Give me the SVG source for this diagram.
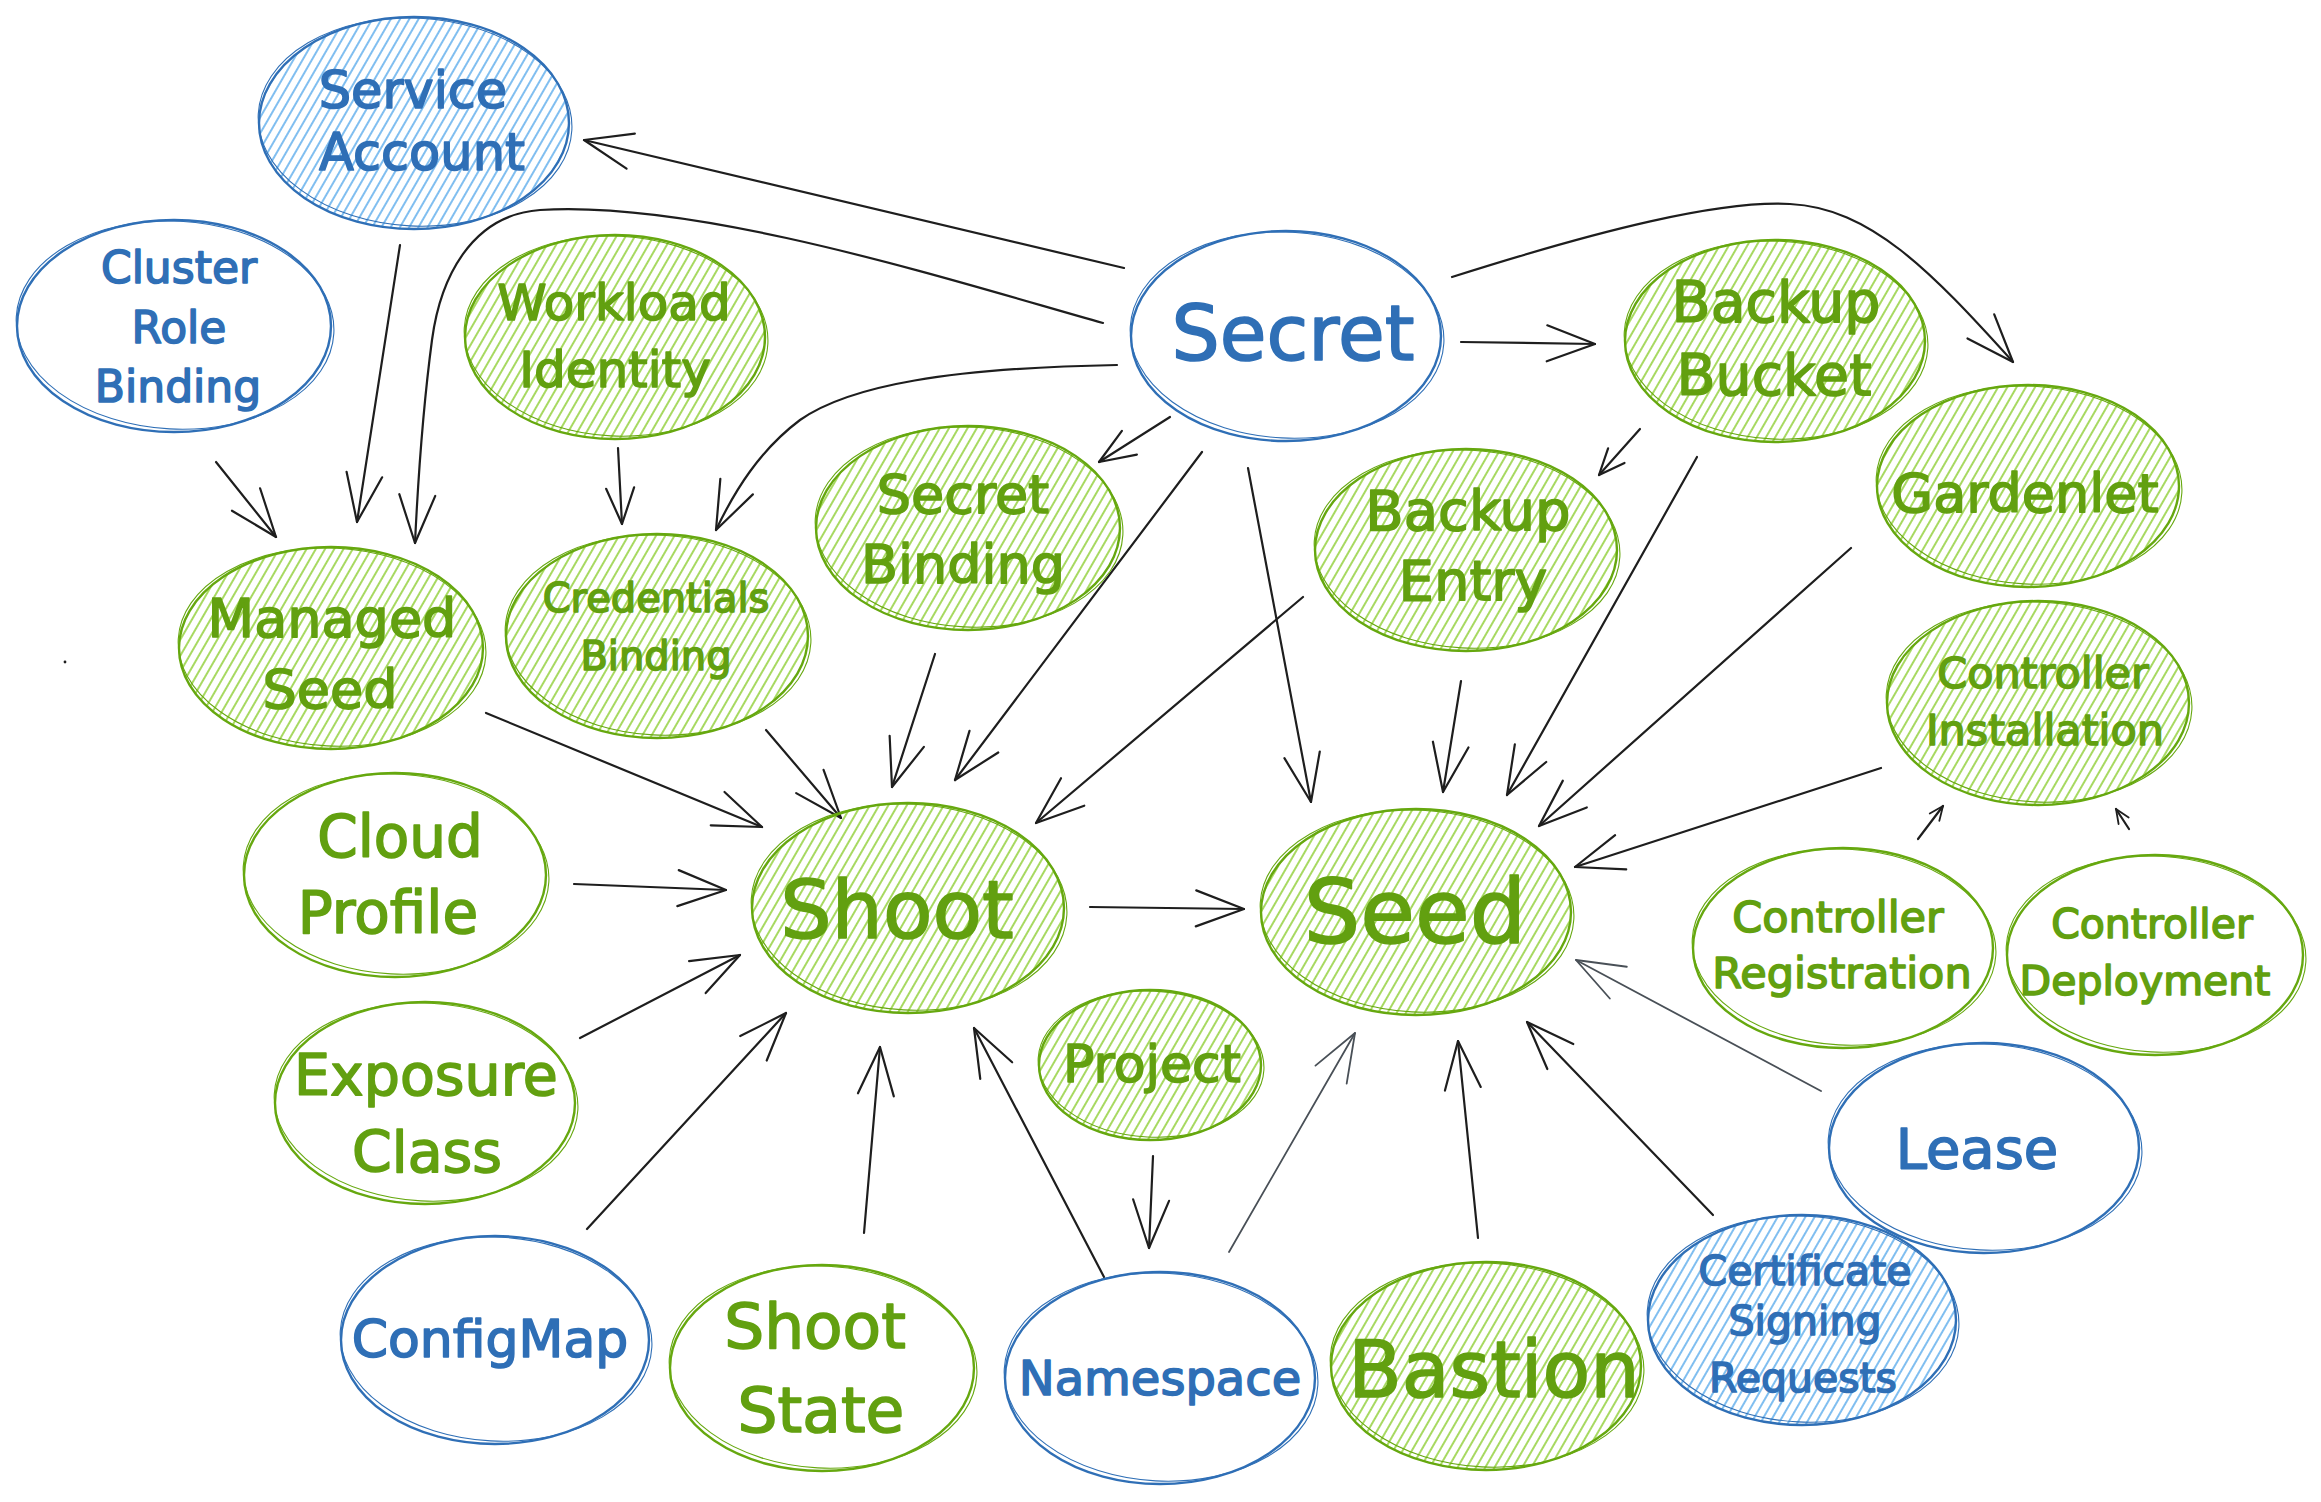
<svg xmlns="http://www.w3.org/2000/svg" width="2321" height="1502" viewBox="0 0 2321 1502">
<defs>
<style>
.n1{stroke-width:2.4}
.n2{fill:none;stroke-width:1.1}
.g{stroke:#66a80f}
.b{stroke:#2f6fb6}
.w{fill:#ffffff}
.hg{fill:url(#hatchG)}
.hb{fill:url(#hatchB)}
text{font-family:"DejaVu Sans","Liberation Sans",sans-serif;text-anchor:middle;stroke-width:1.6;stroke-linejoin:round}
.tg{fill:#62a010;stroke:#62a010}
.tb{fill:#2f6fb6;stroke:#2f6fb6}
.c{fill:none;stroke:#1e1e1e;stroke-width:2.2;stroke-linecap:round}
.cg{fill:none;stroke:#495057;stroke-width:1.8;stroke-linecap:round}
</style>
<pattern id="hatchG" patternUnits="userSpaceOnUse" width="8" height="8" patternTransform="rotate(30)">
<line x1="4" y1="-1" x2="4" y2="9" stroke="#82c91e" stroke-width="1.4"/>
</pattern>
<pattern id="hatchB" patternUnits="userSpaceOnUse" width="8" height="8" patternTransform="rotate(30)">
<line x1="4" y1="-1" x2="4" y2="9" stroke="#4aa3ea" stroke-width="1.4"/>
</pattern>
<marker id="aL" viewBox="-52 -22 56 44" refX="0" refY="0" markerWidth="56" markerHeight="44" markerUnits="userSpaceOnUse" orient="auto">
<path d="M-48,-18 L0,0 L-48,18" fill="none" stroke="#1e1e1e" stroke-width="2.2" stroke-linecap="round" stroke-linejoin="round"/>
</marker>
<marker id="aM" viewBox="-52 -22 56 44" refX="0" refY="0" markerWidth="56" markerHeight="44" markerUnits="userSpaceOnUse" orient="auto">
<path d="M-36,-14 L0,0 L-36,14" fill="none" stroke="#1e1e1e" stroke-width="2.2" stroke-linecap="round" stroke-linejoin="round"/>
</marker>
<marker id="aS" viewBox="-52 -22 56 44" refX="0" refY="0" markerWidth="56" markerHeight="44" markerUnits="userSpaceOnUse" orient="auto">
<path d="M-26,-11 L0,0 L-26,11" fill="none" stroke="#1e1e1e" stroke-width="2.2" stroke-linecap="round" stroke-linejoin="round"/>
</marker>
<marker id="aT" viewBox="-52 -22 56 44" refX="0" refY="0" markerWidth="56" markerHeight="44" markerUnits="userSpaceOnUse" orient="auto">
<path d="M-14,-6 L0,0 L-14,6" fill="none" stroke="#1e1e1e" stroke-width="1.8" stroke-linecap="round" stroke-linejoin="round"/>
</marker>
<marker id="aG" viewBox="-52 -22 56 44" refX="0" refY="0" markerWidth="56" markerHeight="44" markerUnits="userSpaceOnUse" orient="auto">
<path d="M-48,-18 L0,0 L-48,18" fill="none" stroke="#495057" stroke-width="1.8" stroke-linecap="round" stroke-linejoin="round"/>
</marker>
</defs>
<rect width="2321" height="1502" fill="#ffffff"/>

<g id="connectors">
<path class="c" d="M1124,268 L584,140" marker-end="url(#aL)"/>
<path class="c" d="M400,245 L357,522" marker-end="url(#aL)"/>
<path class="c" d="M216,462 L276,537" marker-end="url(#aL)"/>
<path class="c" d="M1103,323 C950,280 700,200 540,210 C470,215 440,280 432,340 C424,400 418,480 415,543" marker-end="url(#aL)"/>
<path class="c" d="M618,448 L622,524" marker-end="url(#aM)"/>
<path class="c" d="M1117,365 C950,368 850,385 800,420 C760,450 735,490 716,530" marker-end="url(#aL)"/>
<path class="c" d="M1170,417 L1099,462" marker-end="url(#aM)"/>
<path class="c" d="M1202,452 L955,780" marker-end="url(#aL)"/>
<path class="c" d="M935,654 L892,787" marker-end="url(#aL)"/>
<path class="c" d="M1303,597 L1036,823" marker-end="url(#aL)"/>
<path class="c" d="M766,730 L841,818" marker-end="url(#aL)"/>
<path class="c" d="M486,713 L762,827" marker-end="url(#aL)"/>
<path class="c" d="M574,884 L726,890" marker-end="url(#aL)"/>
<path class="c" d="M580,1038 L740,955" marker-end="url(#aL)"/>
<path class="c" d="M587,1229 L786,1013" marker-end="url(#aL)"/>
<path class="c" d="M864,1233 L880,1047" marker-end="url(#aL)"/>
<path class="c" d="M1104,1277 L974,1028" marker-end="url(#aL)"/>
<path class="c" d="M1090,907 L1244,909" marker-end="url(#aL)"/>
<path class="c" d="M1248,468 L1311,802" marker-end="url(#aL)"/>
<path class="c" d="M1461,681 L1443,792" marker-end="url(#aL)"/>
<path class="c" d="M1697,457 L1507,795" marker-end="url(#aL)"/>
<path class="c" d="M1851,548 L1539,826" marker-end="url(#aL)"/>
<path class="c" d="M1881,768 L1575,867" marker-end="url(#aL)"/>
<path class="cg" d="M1821,1091 L1576,960" marker-end="url(#aG)"/>
<path class="c" d="M1713,1215 L1527,1022" marker-end="url(#aL)"/>
<path class="c" d="M1478,1238 L1458,1041" marker-end="url(#aL)"/>
<path class="cg" d="M1229,1252 L1355,1033" marker-end="url(#aG)"/>
<path class="c" d="M1153,1156 L1149,1248" marker-end="url(#aL)"/>
<path class="c" d="M1461,342 L1595,344" marker-end="url(#aL)"/>
<path class="c" d="M1452,277 C1600,230 1720,200 1790,204 C1870,208 1930,270 2013,362" marker-end="url(#aL)"/>
<path class="c" d="M1640,429 L1599,475" marker-end="url(#aS)"/>
<path class="c" d="M1918,839 L1943,806" marker-end="url(#aT)"/>
<path class="c" d="M2129,829 L2116,809" marker-end="url(#aT)"/>
</g>

<circle cx="65" cy="662" r="1.4" fill="#1e1e1e"/>

<g id="service-account">
<ellipse class="n1 b hb" cx="414" cy="123" rx="155" ry="106"/>
<ellipse class="n2 b" cx="415" cy="122" rx="157" ry="104" transform="rotate(3 414 123)"/>
<text class="tb" font-size="51" x="413" y="108">Service</text>
<text class="tb" font-size="51" x="422" y="170">Account</text>
</g>

<g id="cluster-role-binding">
<ellipse class="n1 b w" cx="174" cy="326" rx="157" ry="106"/>
<ellipse class="n2 b" cx="175" cy="325" rx="159" ry="104" transform="rotate(3 174 326)"/>
<text class="tb" font-size="44" x="179" y="283">Cluster</text>
<text class="tb" font-size="44" x="179" y="343">Role</text>
<text class="tb" font-size="44" x="178" y="402">Binding</text>
</g>

<g id="workload-identity">
<ellipse class="n1 g hg" cx="615" cy="337" rx="150" ry="102"/>
<ellipse class="n2 g" cx="616" cy="336" rx="152" ry="100" transform="rotate(3 615 337)"/>
<text class="tg" font-size="50" x="614" y="320">Workload</text>
<text class="tg" font-size="50" x="615" y="387">Identity</text>
</g>

<g id="secret">
<ellipse class="n1 b w" cx="1286" cy="336" rx="155" ry="105"/>
<ellipse class="n2 b" cx="1287" cy="335" rx="157" ry="103" transform="rotate(3 1286 336)"/>
<text class="tb" font-size="76" x="1293" y="360">Secret</text>
</g>

<g id="backup-bucket">
<ellipse class="n1 g hg" cx="1775" cy="341" rx="150" ry="101"/>
<ellipse class="n2 g" cx="1776" cy="340" rx="152" ry="99" transform="rotate(3 1775 341)"/>
<text class="tg" font-size="57" x="1776" y="322">Backup</text>
<text class="tg" font-size="57" x="1774" y="395">Bucket</text>
</g>

<g id="gardenlet">
<ellipse class="n1 g hg" cx="2028" cy="486" rx="151" ry="101"/>
<ellipse class="n2 g" cx="2029" cy="485" rx="153" ry="99" transform="rotate(3 2028 486)"/>
<text class="tg" font-size="54" x="2025" y="512">Gardenlet</text>
</g>

<g id="secret-binding">
<ellipse class="n1 g hg" cx="968" cy="528" rx="152" ry="102"/>
<ellipse class="n2 g" cx="969" cy="527" rx="154" ry="100" transform="rotate(3 968 528)"/>
<text class="tg" font-size="54" x="963" y="513">Secret</text>
<text class="tg" font-size="54" x="963" y="583">Binding</text>
</g>

<g id="backup-entry">
<ellipse class="n1 g hg" cx="1466" cy="550" rx="151" ry="101"/>
<ellipse class="n2 g" cx="1467" cy="549" rx="153" ry="99" transform="rotate(3 1466 550)"/>
<text class="tg" font-size="56" x="1468" y="530">Backup</text>
<text class="tg" font-size="56" x="1473" y="600">Entry</text>
</g>

<g id="managed-seed">
<ellipse class="n1 g hg" cx="331" cy="648" rx="152" ry="101"/>
<ellipse class="n2 g" cx="332" cy="647" rx="154" ry="99" transform="rotate(3 331 648)"/>
<text class="tg" font-size="54" x="332" y="637">Managed</text>
<text class="tg" font-size="54" x="330" y="708">Seed</text>
</g>

<g id="credentials-binding">
<ellipse class="n1 g hg" cx="657" cy="636" rx="151" ry="102"/>
<ellipse class="n2 g" cx="658" cy="635" rx="153" ry="100" transform="rotate(3 657 636)"/>
<text class="tg" font-size="40" x="656" y="612">Credentials</text>
<text class="tg" font-size="40" x="656" y="670">Binding</text>
</g>

<g id="controller-installation">
<ellipse class="n1 g hg" cx="2038" cy="703" rx="151" ry="102"/>
<ellipse class="n2 g" cx="2039" cy="702" rx="153" ry="100" transform="rotate(3 2038 703)"/>
<text class="tg" font-size="43" x="2043" y="688">Controller</text>
<text class="tg" font-size="43" x="2045" y="745">Installation</text>
</g>

<g id="cloud-profile">
<ellipse class="n1 g w" cx="395" cy="875" rx="151" ry="102"/>
<ellipse class="n2 g" cx="396" cy="874" rx="153" ry="100" transform="rotate(3 395 875)"/>
<text class="tg" font-size="58" x="400" y="857">Cloud</text>
<text class="tg" font-size="58" x="388" y="933">Profile</text>
</g>

<g id="shoot">
<ellipse class="n1 g hg" cx="908" cy="908" rx="156" ry="105"/>
<ellipse class="n2 g" cx="909" cy="907" rx="158" ry="103" transform="rotate(3 908 908)"/>
<text class="tg" font-size="81" x="897" y="938">Shoot</text>
</g>

<g id="seed">
<ellipse class="n1 g hg" cx="1416" cy="912" rx="155" ry="103"/>
<ellipse class="n2 g" cx="1417" cy="911" rx="157" ry="101" transform="rotate(3 1416 912)"/>
<text class="tg" font-size="89" x="1415" y="943">Seed</text>
</g>

<g id="project">
<ellipse class="n1 g hg" cx="1150" cy="1065" rx="111" ry="75"/>
<ellipse class="n2 g" cx="1151" cy="1064" rx="113" ry="73" transform="rotate(3 1150 1065)"/>
<text class="tg" font-size="52" x="1152" y="1082">Project</text>
</g>

<g id="controller-registration">
<ellipse class="n1 g w" cx="1843" cy="948" rx="150" ry="100"/>
<ellipse class="n2 g" cx="1844" cy="947" rx="152" ry="98" transform="rotate(3 1843 948)"/>
<text class="tg" font-size="43" x="1838" y="932">Controller</text>
<text class="tg" font-size="43" x="1842" y="988">Registration</text>
</g>

<g id="controller-deployment">
<ellipse class="n1 g w" cx="2155" cy="955" rx="148" ry="100"/>
<ellipse class="n2 g" cx="2156" cy="954" rx="150" ry="98" transform="rotate(3 2155 955)"/>
<text class="tg" font-size="41" x="2152" y="938">Controller</text>
<text class="tg" font-size="41" x="2145" y="995">Deployment</text>
</g>

<g id="exposure-class">
<ellipse class="n1 g w" cx="425" cy="1103" rx="150" ry="101"/>
<ellipse class="n2 g" cx="426" cy="1102" rx="152" ry="99" transform="rotate(3 425 1103)"/>
<text class="tg" font-size="57" x="426" y="1095">Exposure</text>
<text class="tg" font-size="57" x="427" y="1172">Class</text>
</g>

<g id="lease">
<ellipse class="n1 b w" cx="1984" cy="1148" rx="155" ry="105"/>
<ellipse class="n2 b" cx="1985" cy="1147" rx="157" ry="103" transform="rotate(3 1984 1148)"/>
<text class="tb" font-size="56" x="1977" y="1168">Lease</text>
</g>

<g id="configmap">
<ellipse class="n1 b w" cx="495" cy="1340" rx="154" ry="104"/>
<ellipse class="n2 b" cx="496" cy="1339" rx="156" ry="102" transform="rotate(3 495 1340)"/>
<text class="tb" font-size="52" x="490" y="1357">ConfigMap</text>
</g>

<g id="shoot-state">
<ellipse class="n1 g w" cx="822" cy="1368" rx="152" ry="103"/>
<ellipse class="n2 g" cx="823" cy="1367" rx="154" ry="101" transform="rotate(3 822 1368)"/>
<text class="tg" font-size="63" x="815" y="1348">Shoot</text>
<text class="tg" font-size="63" x="821" y="1432">State</text>
</g>

<g id="namespace">
<ellipse class="n1 b w" cx="1160" cy="1378" rx="155" ry="106"/>
<ellipse class="n2 b" cx="1161" cy="1377" rx="157" ry="104" transform="rotate(3 1160 1378)"/>
<text class="tb" font-size="48" x="1160" y="1395">Namespace</text>
</g>

<g id="bastion">
<ellipse class="n1 g hg" cx="1486" cy="1366" rx="155" ry="104"/>
<ellipse class="n2 g" cx="1487" cy="1365" rx="157" ry="102" transform="rotate(3 1486 1366)"/>
<text class="tg" font-size="78" x="1494" y="1397">Bastion</text>
</g>

<g id="certificate-signing-requests">
<ellipse class="n1 b hb" cx="1802" cy="1320" rx="154" ry="105"/>
<ellipse class="n2 b" cx="1803" cy="1319" rx="156" ry="103" transform="rotate(3 1802 1320)"/>
<text class="tb" font-size="41" x="1805" y="1285">Certificate</text>
<text class="tb" font-size="41" x="1805" y="1335">Signing</text>
<text class="tb" font-size="41" x="1803" y="1392">Requests</text>
</g>
</svg>
